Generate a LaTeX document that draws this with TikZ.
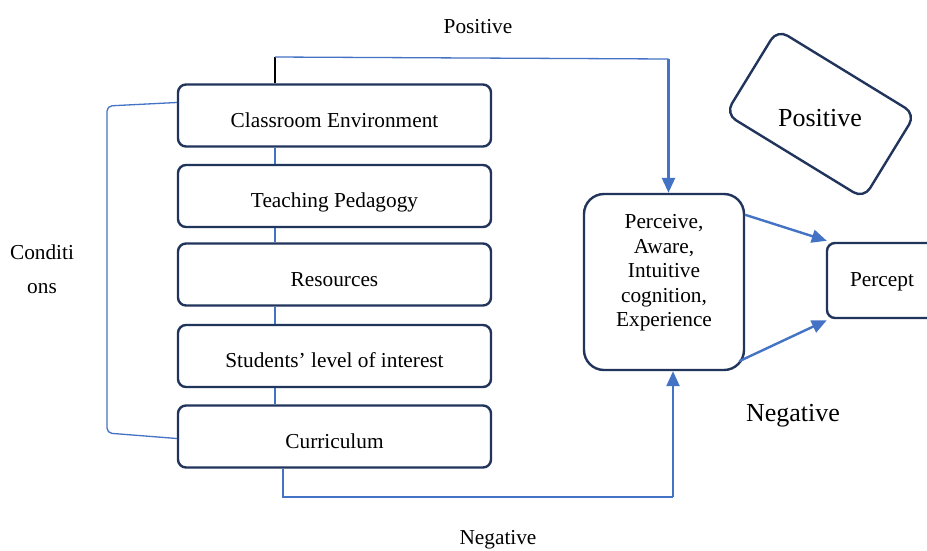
\documentclass[tikz,border=0pt]{standalone}
\usepackage{fontspec}
\setmainfont{Liberation Serif}
\usetikzlibrary{arrows.meta}
\definecolor{navy}{RGB}{33,52,92}
\definecolor{linkblue}{RGB}{68,114,196}
\tikzset{
  colbox/.style={draw=navy, line width=2.4pt, rounded corners=8pt, minimum width=313pt, minimum height=62pt, inner sep=0pt, text height=23pt, text depth=0pt, font=\fontsize{21.3}{25}\selectfont},
  pebox/.style={draw=navy, line width=2.4pt, rounded corners=20pt, minimum width=160pt, minimum height=176pt, inner sep=0pt},
  pcbox/.style={draw=navy, line width=2.4pt, rounded corners=8pt, minimum width=112pt, minimum height=75pt, inner sep=0pt},
  posbox/.style={draw=navy, line width=2.4pt, rounded corners=12pt, minimum width=162pt, minimum height=99pt, inner sep=0pt, rotate=-31.5},
  txt/.style={font=\fontsize{21.3}{24.5}\selectfont, inner sep=0pt, align=center},
  bigtxt/.style={font=\fontsize{26}{30}\selectfont, inner sep=0pt},
  link/.style={draw=linkblue, line width=1.3pt},
  flow/.style={draw=linkblue, line width=2.4pt, -{Triangle[length=15pt,width=13pt]}},
}
\begin{document}
\begin{tikzpicture}[x=1pt,y=-1pt]
\clip (0,0) rectangle (927,550);
\fill[white] (0,0) rectangle (927,550);
% left column
\node[colbox] (ce) at (334.5,115.5) {Classroom Environment};
\node[colbox] (tp) at (334.5,196) {Teaching Pedagogy};
\node[colbox] (rs) at (334.5,274.5) {Resources};
\node[colbox] (sl) at (334.5,356) {Students’ level of interest};
\node[colbox] (cu) at (334.5,436.5) {Curriculum};
% links between boxes
\draw[link] ([xshift=-59.5pt]ce.south) -- ([xshift=-59.5pt]tp.north);
\draw[link] ([xshift=-59.5pt]tp.south) -- ([xshift=-59.5pt]rs.north);
\draw[link] ([xshift=-59.5pt]rs.south) -- ([xshift=-59.5pt]sl.north);
\draw[link] ([xshift=-59.5pt]sl.south) -- ([xshift=-59.5pt]cu.north);
% bracket
\draw[link, rounded corners=5pt] ([yshift=13pt]ce.west) -- (107,106) -- (107,433) -- ([yshift=-2pt]cu.west);
% right side boxes
\node[pebox] (pe) at (664,282) {};
\node[txt] (petext) at (664,273) {Perceive,\\Aware,\\Intuitive\\cognition,\\Experience};
\node[pcbox] (pc) at (883,280.5) {};
\node[txt] (pctext) at (882,282) {Percept};
\node[posbox] (pb) at (820.5,114) {};
\node[bigtxt] (pbtext) at (820,118) {Positive};
% top connector
\coordinate (tl) at (275,57);
\coordinate (tr) at (668.5,59);
\draw[black, line width=1.3pt] ([xshift=-59.5pt]ce.north) -- (tl);
\draw[link] (tl) -- (tr);
\draw[flow] (tr) -- (tr |- pe.north);
% bottom connector
\coordinate (bl) at (283,497);
\coordinate (br) at (673,497);
\draw[link] ([xshift=-51.5pt]cu.south) -- (bl) -- (br);
\draw[flow] (br) -- (br |- pe.south);
% arrows to percept
\draw[flow] ([yshift=-22pt]pe.north east) -- ([xshift=1pt,yshift=1pt]pc.north west);
\draw[flow] ([xshift=-6pt,yshift=10pt]pe.south east) -- ([xshift=1pt,yshift=-1pt]pc.south west);
% labels
\node[txt] (lpos) at (478,27) {Positive};
\node[txt] (lneg) at (498,540) {Negative};
\node[bigtxt] (lneg2) at (793,416) {Negative};
\node[font=\fontsize{21.3}{34}\selectfont, inner sep=0pt, align=center] (lcond) at (42,269) {Conditi\\ons};
\end{tikzpicture}
\end{document}
